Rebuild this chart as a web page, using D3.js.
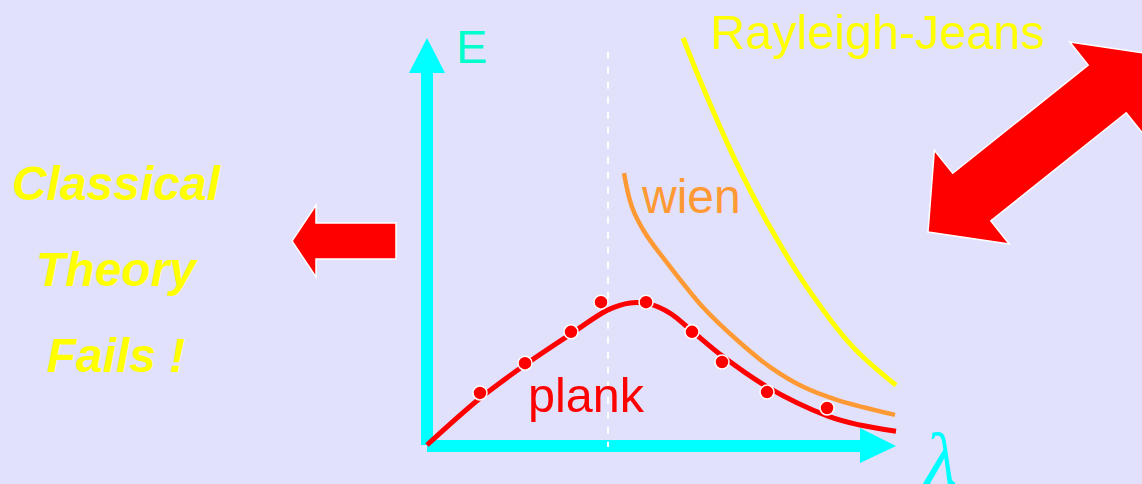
<!DOCTYPE html>
<html>
<head>
<meta charset="utf-8">
<script src="https://cdn.jsdelivr.net/npm/d3@7"></script>
<style>
  html, body { margin: 0; padding: 0; background: #E1E1FC; }
  svg { display: block; }
</style>
</head>
<body>
<div id="chart"></div>
<script>
// wavelength / energy readings (arbitrary units, 0-10 on both axes)
const plankLambda = [0, 1.13, 2.09, 3.07, 3.86, 4.33, 4.75, 5.18, 5.65, 6.29, 7.25, 8.55, 9.23, 10];
const plankEnergy = [0, 1.15, 1.97, 2.73, 3.32, 3.49, 3.46, 3.24, 2.80, 2.19, 1.43, 0.71, 0.49, 0.34];

const measuredLambda = [1.13, 2.09, 3.07, 3.71, 4.67, 5.65, 6.29, 7.25, 8.53];
const measuredEnergy = [1.28, 2.01, 2.78, 3.51, 3.51, 2.78, 2.04, 1.30, 0.91];

const wienLambda = [4.20, 4.37, 4.65, 5.07, 5.88, 6.61, 7.31, 8.02, 8.74, 9.98];
const wienEnergy = [6.68, 5.85, 5.21, 4.55, 3.39, 2.58, 1.92, 1.43, 1.11, 0.74];

const rjLambda = [5.46, 5.88, 6.57, 7.31, 8.10, 9.08, 10.0];
const rjEnergy = [10.0, 8.80, 7.00, 5.36, 3.88, 2.41, 1.47];

const peakLambda = 3.86;
const sideText = ["Classical", "Theory", "Fails !"];

const width = 1142, height = 484;

const svg = d3.select("#chart").append("svg")
    .attr("width", width)
    .attr("height", height);

svg.append("rect")
    .attr("width", width)
    .attr("height", height)
    .attr("fill", "#E1E1FC");

// scales
const x = d3.scaleLinear().domain([0, 10]).range([427, 896]);
const y = d3.scaleLinear().domain([0, 10]).range([445, 38]);

const x0 = x.range()[0], y0 = y.range()[0];

// axes as thick cyan arrows
const axisCol = "#00FFFF";
svg.append("rect")
    .attr("x", x0 - 6).attr("y", y(10) + 35)
    .attr("width", 12).attr("height", y0 - (y(10) + 35))
    .attr("fill", axisCol);
svg.append("path")
    .attr("d", `M${x0},${y(10)} L${x0 + 18},${y(10) + 35} L${x0 - 18},${y(10) + 35} Z`)
    .attr("fill", axisCol);

svg.append("rect")
    .attr("x", x0).attr("y", y0 - 5)
    .attr("width", x(10) - 36 - x0).attr("height", 12)
    .attr("fill", axisCol);
svg.append("path")
    .attr("d", `M${x(10)},${y0 + 1} L${x(10) - 36},${y0 - 17} L${x(10) - 36},${y0 + 18} Z`)
    .attr("fill", axisCol);

// dashed marker at the peak
svg.append("line")
    .attr("x1", x(peakLambda)).attr("x2", x(peakLambda))
    .attr("y1", y(9.66)).attr("y2", y0 + 2)
    .attr("stroke", "#ffffff")
    .attr("stroke-width", 2)
    .attr("stroke-dasharray", "7,8");

// curves
const line = d3.line()
    .x(d => x(d[0]))
    .y(d => y(d[1]))
    .curve(d3.curveCatmullRom.alpha(0.5));

svg.append("path")
    .datum(rjLambda.map((l, i) => [l, rjEnergy[i]]))
    .attr("d", line)
    .attr("fill", "none")
    .attr("stroke", "#FFFF00")
    .attr("stroke-width", 5);

svg.append("path")
    .datum(wienLambda.map((l, i) => [l, wienEnergy[i]]))
    .attr("d", line)
    .attr("fill", "none")
    .attr("stroke", "#FF9933")
    .attr("stroke-width", 4.5);

svg.append("path")
    .datum(plankLambda.map((l, i) => [l, plankEnergy[i]]))
    .attr("d", line)
    .attr("fill", "none")
    .attr("stroke", "#FF0000")
    .attr("stroke-width", 5);

svg.selectAll(".dot")
    .data(measuredLambda.map((l, i) => [l, measuredEnergy[i]]))
    .enter().append("circle")
    .attr("class", "dot")
    .attr("cx", d => x(d[0]))
    .attr("cy", d => y(d[1]))
    .attr("r", 7)
    .attr("fill", "#FF0000")
    .attr("stroke", "#ffffff")
    .attr("stroke-width", 1.5);

// labels
const sans = "Liberation Sans, Arial, sans-serif";
svg.append("text").attr("x", 456).attr("y", 63)
    .attr("font-family", sans).attr("font-size", 47)
    .attr("fill", "#00FFCC").text("E");
svg.append("text").attr("x", 710).attr("y", 49)
    .attr("font-family", sans).attr("font-size", 48.5)
    .attr("fill", "#FFFF00").text("Rayleigh-Jeans");
svg.append("text").attr("x", 642).attr("y", 213)
    .attr("font-family", sans).attr("font-size", 48)
    .attr("fill", "#FF9933").text("wien");
svg.append("text").attr("x", 528).attr("y", 412)
    .attr("font-family", sans).attr("font-size", 48.5)
    .attr("fill", "#FF0000").text("plank");
svg.append("text").attr("x", 941).attr("y", 484)
    .attr("text-anchor", "middle")
    .attr("font-family", "Liberation Serif, Times New Roman, serif")
    .attr("font-style", "italic").attr("font-size", 74)
    .attr("fill", axisCol).text("λ");

svg.selectAll(".side")
    .data(sideText)
    .enter().append("text")
    .attr("class", "side")
    .attr("x", 116)
    .attr("y", (d, i) => 200 + i * 86)
    .attr("text-anchor", "middle")
    .attr("font-family", sans)
    .attr("font-weight", "bold")
    .attr("font-style", "italic")
    .attr("font-size", 48)
    .attr("fill", "#FFFF00")
    .text(d => d);

// red block arrows
function singleArrow(L, sw, hw, hl) {
    return [[0, 0], [-hl, -hw / 2], [-hl, -sw / 2], [-L, -sw / 2],
            [-L, sw / 2], [-hl, sw / 2], [-hl, hw / 2]];
}
function doubleArrow(L, sw, hw, hl) {
    const a = L / 2;
    return [[a, 0], [a - hl, -hw / 2], [a - hl, -sw / 2], [-a + hl, -sw / 2],
            [-a + hl, -hw / 2], [-a, 0], [-a + hl, hw / 2], [-a + hl, sw / 2],
            [a - hl, sw / 2], [a - hl, hw / 2]];
}

svg.append("path")
    .attr("d", "M" + singleArrow(104, 36, 72, 24).join("L") + "Z")
    .attr("transform", "translate(292,241) rotate(180)")
    .attr("fill", "#FF0000")
    .attr("stroke", "#ffffff")
    .attr("stroke-width", 1.5);

const t1 = [928, 232], t2 = [1151, 54];
const dLen = Math.hypot(t2[0] - t1[0], t2[1] - t1[1]);
const dAng = Math.atan2(t2[1] - t1[1], t2[0] - t1[0]) * 180 / Math.PI;
svg.append("path")
    .attr("d", "M" + doubleArrow(dLen, 61, 120, 56).join("L") + "Z")
    .attr("transform", `translate(${(t1[0] + t2[0]) / 2},${(t1[1] + t2[1]) / 2}) rotate(${dAng})`)
    .attr("fill", "#FF0000")
    .attr("stroke", "#ffffff")
    .attr("stroke-width", 1.5);
</script>
</body>
</html>
